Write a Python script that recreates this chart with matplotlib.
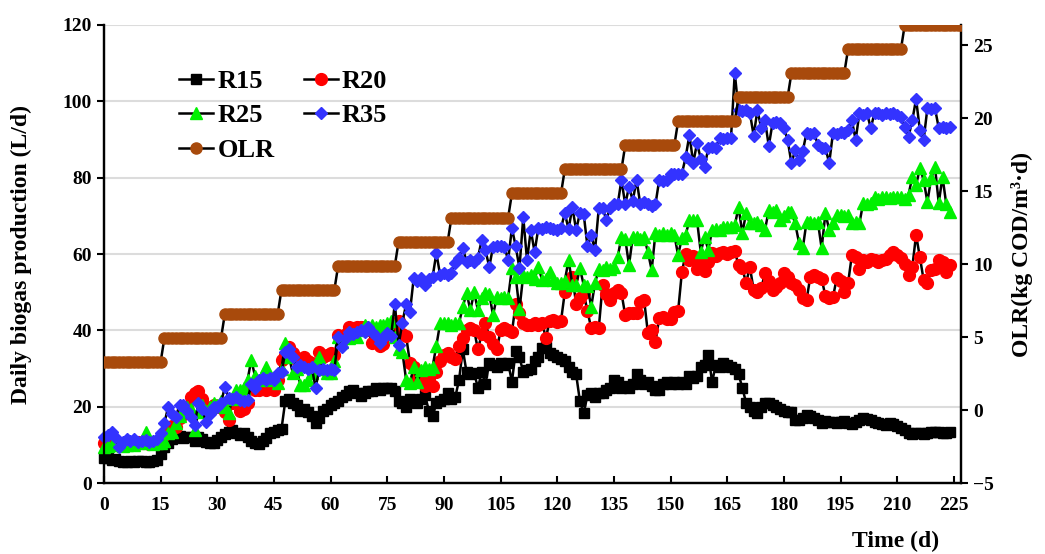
import matplotlib.pyplot as plt
import numpy as np

plt.rcParams['font.family'] = 'Liberation Serif'
plt.rcParams['font.weight'] = 'bold'

days = np.arange(225)

r15 = [6.5, 6.5, 6.0, 6.2, 5.8, 5.5, 5.6, 5.8, 5.5, 5.7, 5.9, 5.6, 5.5, 5.8, 6.0,
       7.5, 9.5, 10.5, 11.5, 12.0, 12.3, 11.8, 12.2, 12.0, 11.0, 12.0, 11.5, 10.8, 10.5, 10.5,
       11.2, 12.0, 12.8, 13.5, 13.8, 13.0, 12.5, 13.2, 12.2, 11.0, 10.5, 10.2, 11.0, 11.8, 13.0,
       13.5, 14.0, 14.2, 21.5, 22.0, 21.0, 20.5, 19.0, 19.5, 18.5, 17.5, 15.8, 17.0, 19.0, 19.5,
       20.5, 21.0, 21.5, 22.5, 23.0, 24.0, 24.5, 23.5, 22.8, 23.5, 24.2, 24.0, 25.0, 24.5, 25.0,
       25.0, 24.8, 24.0, 21.5, 21.0, 20.0, 22.0, 21.5, 21.0, 22.0, 23.0, 19.0, 17.5, 21.0, 21.5,
       22.0, 23.5, 22.0, 22.5, 27.0, 35.0, 29.0, 28.5, 28.8, 25.0, 29.0, 26.0, 31.5, 31.0, 30.5,
       31.5, 31.0, 31.5, 26.5, 34.5, 33.0, 29.0, 29.5, 30.0, 32.0, 33.0, 35.5, 35.6, 34.0, 33.5,
       33.0, 32.5, 32.0, 30.5, 29.0, 28.5, 21.5, 18.3, 23.0, 23.5, 22.5, 23.5, 23.5, 24.5, 25.0,
       27.0, 26.5, 25.0, 25.5, 25.0, 26.0, 28.5, 27.0, 26.0, 26.5, 25.5, 24.5, 24.5, 26.0, 26.5,
       26.0, 26.5, 26.0, 26.5, 26.0, 28.0, 27.5, 28.0, 30.5, 31.0, 33.5, 26.5, 31.0, 30.5, 31.5,
       31.0, 30.5, 30.0, 28.5, 25.0, 21.0, 20.0, 19.0, 18.3, 20.0, 21.0, 21.0, 20.5, 20.0, 19.5,
       19.0, 18.5, 18.5, 16.5, 16.5, 17.0, 17.8, 17.5, 17.0, 16.5, 15.8, 16.2, 16.0, 16.0, 15.8,
       16.0, 16.2, 15.8, 15.5, 16.0, 16.5, 17.0, 16.8, 16.5, 16.0, 15.8, 15.5, 15.3, 15.8, 15.5,
       15.0, 14.5, 13.8, 13.0, 12.8, 13.2, 13.0, 12.8, 13.2, 13.5, 13.4, 13.5, 13.2, 13.0, 13.5]

r20 = [10.5, 10.8, 10.5, 10.2, 10.5, 10.5, 10.0, 10.2, 10.5, 10.8, 10.5, 10.5, 10.3, 10.5, 10.8,
       10.5, 12.5, 14.5, 15.0, 14.7, 17.0, 19.5, 20.0, 22.5, 23.5, 24.0, 22.0, 20.0, 19.0, 20.5,
       20.0, 20.5, 18.6, 16.5, 21.0, 22.0, 19.0, 19.5, 21.0, 25.2, 24.5, 24.4, 25.0, 24.4, 25.0,
       24.5, 27.0, 32.2, 33.5, 35.6, 34.0, 32.2, 32.5, 33.0, 32.0, 31.5, 30.5, 34.3, 33.0, 33.5,
       34.0, 33.5, 38.8, 38.0, 39.0, 41.0, 40.5, 41.0, 40.8, 41.0, 40.0, 36.6, 37.0, 36.0, 36.5,
       39.0, 39.5, 41.0, 42.5, 39.0, 38.5, 31.5, 30.5, 27.5, 26.5, 25.5, 27.0, 25.5, 29.0, 32.0,
       33.5, 34.0, 33.0, 32.5, 36.0, 38.0, 40.0, 40.5, 40.0, 35.0, 39.0, 41.9, 38.3, 36.5, 35.0,
       40.0, 40.5, 40.0, 39.5, 47.0, 44.5, 42.0, 41.5, 41.4, 42.0, 41.5, 41.9, 38.0, 42.5, 42.7,
       42.2, 42.5, 50.0, 52.0, 54.0, 47.0, 48.5, 49.8, 45.0, 40.6, 41.0, 40.6, 51.9, 49.5, 48.0,
       49.8, 50.6, 49.8, 44.0, 44.5, 44.5, 44.5, 47.5, 48.0, 39.3, 40.0, 37.0, 43.2, 43.5, 43.0,
       43.0, 44.8, 45.0, 55.3, 60.0, 58.5, 59.5, 56.0, 58.0, 55.5, 58.0, 60.2, 59.5, 60.2, 60.5,
       60.0, 60.5, 60.8, 57.0, 56.3, 52.4, 56.6, 50.6, 50.0, 51.0, 55.0, 53.0, 50.6, 51.4, 52.5,
       55.0, 54.0, 52.4, 52.0, 50.6, 48.5, 48.0, 54.0, 54.5, 54.0, 53.5, 49.0, 48.5, 48.7, 53.7,
       53.0, 50.0, 52.4, 59.7, 59.2, 56.0, 58.4, 58.0, 58.8, 58.4, 58.0, 58.4, 58.8, 59.7, 60.5,
       59.7, 58.9, 57.5, 54.5, 56.6, 65.0, 59.2, 53.2, 52.4, 55.8, 56.0, 58.4, 58.0, 55.3, 57.0]

r25 = [9.5, 9.8, 10.0, 10.2, 10.0, 9.8, 10.0, 10.3, 10.0, 10.5, 11.0, 13.4, 10.5, 10.2, 10.5,
       10.5, 11.0, 13.0, 13.5, 15.7, 17.5, 19.0, 20.0, 19.5, 14.0, 18.5, 20.5, 19.0, 20.0, 21.0,
       20.5, 21.5, 20.0, 18.3, 22.0, 24.4, 24.4, 25.0, 27.0, 32.2, 28.0, 27.0, 28.5, 30.5, 27.0,
       27.5, 26.2, 30.0, 36.6, 33.0, 28.8, 30.0, 25.7, 25.7, 27.0, 28.8, 31.0, 33.0, 30.0, 28.8,
       28.8, 32.0, 38.3, 37.0, 38.3, 38.0, 39.0, 38.3, 40.0, 41.4, 41.0, 41.4, 41.0, 41.4, 41.4,
       42.0, 42.5, 38.3, 35.0, 34.3, 27.0, 26.2, 30.5, 26.5, 29.5, 30.5, 30.0, 30.5, 36.0, 41.9,
       41.9, 42.0, 41.5, 42.0, 41.9, 46.2, 49.8, 45.3, 50.0, 45.3, 48.5, 49.8, 49.5, 44.0, 48.7,
       48.5, 48.7, 48.5, 56.3, 54.0, 45.5, 54.5, 54.0, 54.5, 53.5, 56.6, 53.2, 53.5, 55.3, 53.2,
       52.4, 52.4, 53.0, 58.4, 52.0, 51.9, 56.3, 51.9, 51.5, 46.2, 52.4, 56.0, 55.8, 56.6, 56.0,
       56.6, 59.2, 64.5, 64.0, 57.1, 64.5, 64.5, 64.0, 64.5, 60.5, 55.8, 65.5, 65.0, 65.5, 65.0,
       65.5, 65.0, 59.7, 64.2, 65.0, 68.9, 69.0, 68.9, 60.5, 64.5, 61.0, 66.3, 66.5, 66.3, 67.1,
       67.0, 67.1, 67.5, 72.3, 65.5, 70.7, 68.0, 68.0, 68.5, 67.5, 66.3, 71.5, 71.0, 71.5, 68.9,
       70.0, 71.0, 71.0, 68.0, 63.0, 61.5, 68.4, 68.5, 68.0, 68.4, 61.5, 70.7, 66.3, 68.0, 70.2,
       70.2, 70.0, 70.2, 68.0, 68.5, 68.0, 73.4, 73.0, 73.4, 75.0, 74.5, 75.0, 75.0, 74.8, 75.0,
       75.0, 75.0, 74.5, 75.5, 80.2, 78.0, 82.5, 79.4, 73.6, 79.9, 82.8, 73.4, 80.2, 73.0, 71.0]

r35 = [12.0, 12.5, 13.4, 12.0, 9.5, 10.8, 11.5, 11.0, 11.5, 10.8, 11.0, 11.2, 10.8, 11.0, 11.5,
       13.0, 15.7, 20.0, 18.0, 17.3, 20.4, 20.5, 19.0, 17.3, 15.2, 21.0, 19.5, 16.0, 18.0, 20.0,
       20.0, 21.0, 25.2, 22.3, 22.0, 22.5, 21.7, 21.5, 21.7, 26.0, 25.0, 27.0, 27.5, 27.0, 27.5,
       27.0, 28.8, 29.0, 34.3, 35.0, 33.0, 30.5, 31.0, 30.5, 30.0, 30.5, 25.0, 29.6, 30.0, 29.6,
       30.0, 29.6, 38.3, 35.6, 38.0, 39.6, 39.0, 39.6, 40.0, 39.6, 41.0, 39.5, 38.5, 36.6, 38.0,
       39.2, 38.5, 47.0, 36.2, 42.0, 47.0, 44.8, 53.7, 53.0, 53.7, 52.0, 53.5, 54.0, 60.2, 54.5,
       55.0, 54.5, 55.0, 57.6, 59.0, 61.5, 58.0, 58.5, 58.0, 59.0, 63.7, 61.0, 56.6, 61.9, 62.0,
       62.0, 61.9, 58.4, 66.8, 62.0, 56.3, 69.7, 58.4, 66.3, 60.5, 66.8, 66.5, 67.0, 66.8, 66.5,
       66.3, 66.8, 70.7, 66.5, 72.3, 66.3, 70.7, 70.5, 62.0, 65.0, 61.0, 72.0, 72.0, 69.0, 72.0,
       73.0, 73.0, 79.4, 73.0, 77.6, 74.0, 79.4, 73.0, 73.5, 73.0, 72.5, 73.0, 79.4, 79.0, 79.4,
       81.0, 81.0, 81.0, 81.0, 85.4, 91.2, 83.8, 89.0, 85.0, 82.8, 87.8, 88.0, 87.8, 90.4, 90.0,
       90.4, 90.4, 107.4, 97.7, 97.5, 97.7, 97.0, 91.0, 97.7, 93.0, 95.0, 88.3, 94.3, 94.5, 94.3,
       93.0, 89.9, 83.8, 87.2, 84.6, 87.0, 91.7, 91.5, 91.7, 88.6, 87.8, 87.8, 83.8, 91.7, 91.5,
       92.0, 91.7, 92.5, 95.0, 89.9, 96.9, 96.5, 96.9, 93.0, 96.9, 97.0, 96.5, 97.0, 96.8, 97.0,
       96.5, 96.0, 93.3, 90.7, 95.0, 100.6, 92.5, 89.9, 98.2, 98.0, 98.2, 93.0, 93.3, 93.0, 93.3]

# organic loading rate: one level per stage, stage start days
olr_levels = [3.3, 4.95, 6.6, 8.25, 9.9, 11.55, 13.2, 14.85, 16.5, 18.15,
              19.8, 21.45, 23.1, 24.75, 26.4]
olr_start = [0, 16, 32, 47, 62, 78, 92, 108, 122, 138, 152, 168, 182, 197, 212]
olr_end_day = 227

olr_x, olr_y = [], []
for i, lvl in enumerate(olr_levels):
    end = olr_start[i + 1] if i + 1 < len(olr_start) else olr_end_day + 1
    for d in range(olr_start[i], end):
        olr_x.append(d)
        olr_y.append(lvl)

brown = '#a84a0c'
series = [
    ('R15', r15, 's', 'black', 7),
    ('R20', r20, 'o', '#ff0000', 8.5),
    ('R25', r25, '^', '#00f000', 8.5),
    ('R35', r35, 'D', '#3333ff', 6.5),
]

fig, ax = plt.subplots(figsize=(10.45, 5.54), dpi=100)
fig.subplots_adjust(left=0.0995, right=0.92, bottom=0.128, top=0.955)
ax2 = ax.twinx()

handles = {}
for name, vals, mk, col, ms in series:
    h, = ax.plot(days, vals, color='black', lw=1.8, marker=mk, ms=ms,
                 mfc=col, mec=col, clip_on=False, zorder=3)
    handles[name] = h

h, = ax2.plot(olr_x, olr_y, color='black', lw=1.8, marker='o', ms=8,
              mfc=brown, mec=brown, zorder=3)
handles['OLR'] = h

ax.set_xlim(0, 227)
ax.set_ylim(0, 120)
ax.set_xticks(np.arange(0, 226, 15))
ax.set_yticks(np.arange(0, 121, 20))
ax2.set_ylim(-5, 26.4)
ax2.set_yticks(np.arange(-5, 26, 5))

ax.grid(axis='y', color='#dcdcdc', lw=1.5)
ax.set_axisbelow(True)

for a in (ax, ax2):
    a.spines['top'].set_visible(False)
    for s in ('left', 'right', 'bottom'):
        a.spines[s].set_linewidth(1.6)
ax.tick_params(axis='x', direction='in', length=5, width=1.5, labelsize=14, pad=10)
ax.tick_params(axis='y', direction='out', length=5, width=1.5, labelsize=14)
ax2.tick_params(axis='y', direction='out', length=5, width=1.5, labelsize=14)

ax.set_ylabel('Daily biogas production (L/d)', fontsize=17, fontweight='bold', labelpad=22)
ax2.set_ylabel('OLR(kg COD/m³·d)', fontsize=17, fontweight='bold', labelpad=12)
ax.set_xlabel('Time (d)', fontsize=17, fontweight='bold')
ax.xaxis.set_label_coords(0.923, -0.105)

order = ['R15', 'R25', 'OLR', 'R20', 'R35']
ax2.legend([handles[k] for k in order], order, ncol=2, frameon=False,
           loc='upper left', bbox_to_anchor=(0.06, 0.955),
           handlelength=1.3, handletextpad=0.15, columnspacing=1.1,
           labelspacing=0.42, numpoints=1,
           prop={'family': 'Liberation Serif', 'weight': 'bold', 'size': 19})

fig.savefig('out.png', dpi=100)
